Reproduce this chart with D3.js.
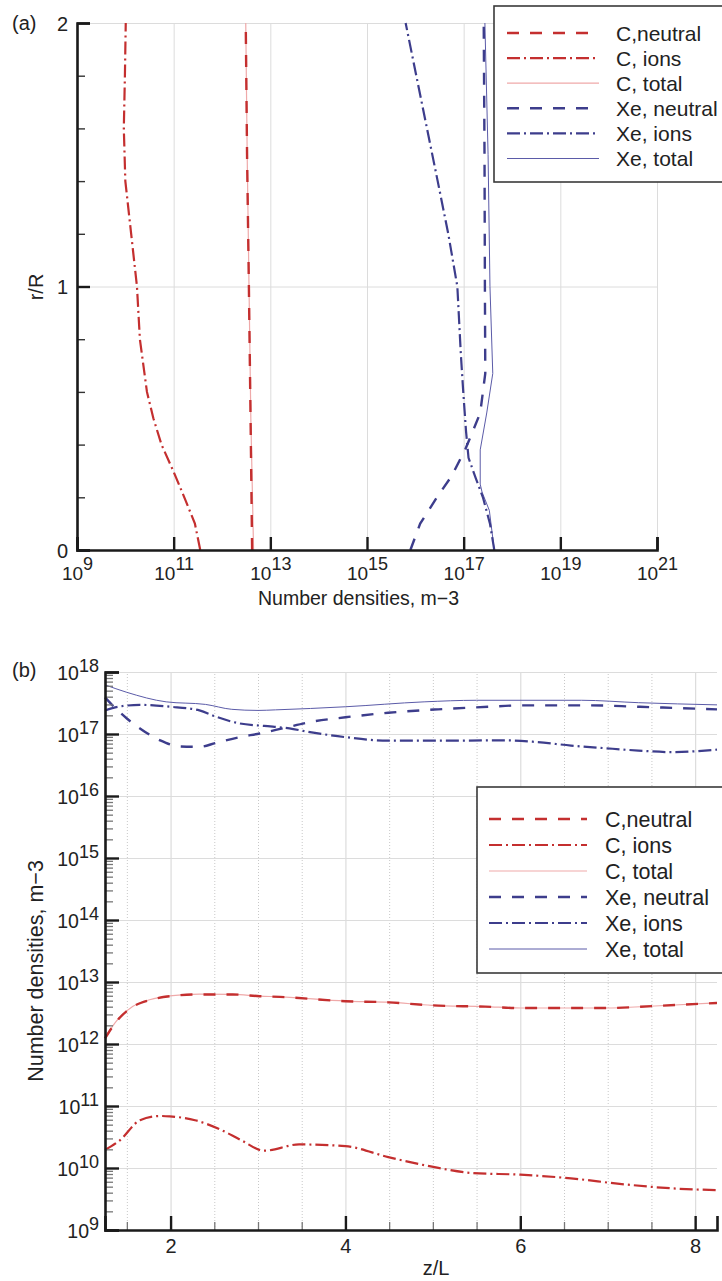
<!DOCTYPE html>
<html>
<head>
<meta charset="utf-8">
<script src="https://cdn.jsdelivr.net/npm/d3@7"></script>
<style>
body { margin: 0; background: #fff; }
svg text { font-family: "Liberation Sans", Arial, sans-serif; fill: #222; }
</style>
</head>
<body>
<svg id="chart" width="722" height="1281"></svg>
<script>
// ---------- panel (a): radial profiles, r/R vs number density ----------
const rCNeutral = [0, 0.5, 1.0, 1.5, 2.0]
const cNeutralA = [4.2e12, 3.9e12, 3.6e12, 3.3e12, 3.1e12]
const rCIons = [0, 0.1, 0.2, 0.3, 0.4, 0.5, 0.6, 0.8, 1.0, 1.2, 1.4, 1.6, 1.8, 2.0]
const cIonsA = [3.55e11, 2.75e11, 1.66e11, 9.8e10, 5.6e10, 3.8e10, 2.8e10, 2.0e10, 1.74e10, 1.32e10, 1.0e10, 9.3e9, 9.8e9, 1.02e10]
const rCTotal = [0, 0.5, 1.0, 1.5, 2.0]
const cTotalA = [4.5e12, 3.95e12, 3.62e12, 3.32e12, 3.1e12]
const rXeNeutral = [0, 0.1, 0.2, 0.28, 0.38, 0.42, 0.52, 0.67, 1.0, 1.5, 2.0]
const xeNeutralA = [7.9e15, 1.26e16, 2.8e16, 5.6e16, 1.07e17, 1.32e17, 2.2e17, 2.8e17, 2.75e17, 2.7e17, 2.6e17]
const rXeIons = [0, 0.1, 0.2, 0.27, 0.35, 0.45, 0.6, 0.75, 1.0, 1.2, 1.4, 1.6, 2.0]
const xeIonsA = [4.3e17, 3.5e17, 2.5e17, 1.8e17, 1.26e17, 1.12e17, 9.8e16, 8.7e16, 7.4e16, 4.8e16, 2.9e16, 1.74e16, 6.3e15]
const rXeTotal = [0, 0.15, 0.22, 0.25, 0.38, 0.52, 0.67, 1.0, 1.5, 2.0]
const xeTotalA = [4.3e17, 3.4e17, 2.4e17, 2.2e17, 2.2e17, 3.0e17, 4.0e17, 3.5e17, 3.2e17, 2.75e17]

// ---------- panel (b): axial profiles, number density vs z/L ----------
const zCNeutral = [1.25, 1.38, 1.57, 1.76, 1.99, 2.33, 2.71, 3.02, 3.25, 4.0, 4.49, 4.99, 5.6, 6.0, 6.97, 7.54, 8.25]
const cNeutralB = [1.23e12, 2.3e12, 4.0e12, 5.1e12, 5.9e12, 6.3e12, 6.3e12, 5.9e12, 5.75e12, 4.9e12, 4.7e12, 4.2e12, 4.0e12, 3.8e12, 3.8e12, 4.1e12, 4.6e12]
const zCIons = [1.25, 1.42, 1.65, 1.88, 1.99, 2.28, 2.58, 2.81, 3.07, 3.47, 4.0, 4.49, 4.99, 5.45, 6.0, 6.58, 7.16, 7.73, 8.25]
const cIonsB = [1.95e10, 2.8e10, 5.9e10, 6.9e10, 6.8e10, 5.9e10, 4.1e10, 2.8e10, 1.9e10, 2.4e10, 2.25e10, 1.5e10, 1.05e10, 8.3e9, 7.8e9, 6.8e9, 5.5e9, 4.7e9, 4.4e9]
const zCTotal = [1.25, 1.38, 1.57, 1.76, 1.99, 2.33, 2.71, 3.02, 3.25, 4.0, 4.49, 4.99, 5.6, 6.0, 6.97, 7.54, 8.25]
const cTotalB = [1.25e12, 2.33e12, 4.05e12, 5.17e12, 5.97e12, 6.36e12, 6.33e12, 5.92e12, 5.77e12, 4.92e12, 4.72e12, 4.21e12, 4.01e12, 3.81e12, 3.81e12, 4.1e12, 4.6e12]
const zXeNeutral = [1.25, 1.37, 1.5, 1.65, 1.88, 2.1, 2.33, 2.52, 2.79, 3.02, 3.28, 3.62, 4.0, 4.49, 5.06, 5.64, 6.02, 6.78, 7.35, 8.25]
const xeNeutralB = [3.9e17, 2.6e17, 1.78e17, 1.23e17, 7.9e16, 6.3e16, 6.2e16, 7.2e16, 8.9e16, 1.02e17, 1.23e17, 1.58e17, 1.86e17, 2.2e17, 2.5e17, 2.75e17, 2.9e17, 2.9e17, 2.75e17, 2.5e17]
const zXeIons = [1.25, 1.4, 1.65, 2.0, 2.33, 2.52, 2.79, 3.07, 3.36, 3.55, 4.0, 4.49, 5.06, 5.83, 6.2, 6.58, 6.97, 7.35, 7.73, 8.25]
const xeIonsB = [2.4e17, 2.75e17, 2.95e17, 2.75e17, 2.4e17, 1.9e17, 1.48e17, 1.35e17, 1.23e17, 1.1e17, 8.9e16, 7.8e16, 7.8e16, 7.9e16, 7.4e16, 6.5e16, 5.9e16, 5.4e16, 5.1e16, 5.6e16]
const zXeTotal = [1.25, 1.5, 1.95, 2.4, 2.7, 3.0, 3.2, 4.0, 4.9, 5.5, 6.7, 7.35, 8.25]
const xeTotalB = [6.2e17, 4.7e17, 3.3e17, 3.0e17, 2.5e17, 2.4e17, 2.45e17, 2.75e17, 3.3e17, 3.5e17, 3.5e17, 3.2e17, 2.95e17]

const seriesNames = ['C,neutral', 'C, ions', 'C, total', 'Xe, neutral', 'Xe, ions', 'Xe, total']
const xTicksA = [1e9, 1e11, 1e13, 1e15, 1e17, 1e19, 1e21]
const yTicksA = [0, 1, 2]
const xTicksB = [2, 4, 6, 8]
const yTicksB = [1e9, 1e10, 1e11, 1e12, 1e13, 1e14, 1e15, 1e16, 1e17, 1e18]

// line looks, in legend order
const RED = '#c42f2f', PINK = '#efa9a9', BLUE = '#3d3d8c', BLUE2 = '#5b5ba8'
const styles = [
	{ color: RED, dash: '12,11', width: 2.4 },
	{ color: RED, dash: '13,4,2,4', width: 2.2 },
	{ color: PINK, dash: null, width: 1.2 },
	{ color: BLUE, dash: '12,11', width: 2.4 },
	{ color: BLUE, dash: '13,4,2,4', width: 2.2 },
	{ color: BLUE2, dash: null, width: 1 }
]

const svg = d3.select('#chart')

function supLabels(sel, anchor, baseDy, supDy, baseSize, supSize) {
	sel.selectAll('.tick text').each(function(d) {
		const t = d3.select(this).text(null).attr('dy', baseDy).attr('text-anchor', anchor)
			.style('font-size', baseSize + 'px')
		t.append('tspan').text('10')
		t.append('tspan').attr('dy', supDy).style('font-size', supSize + 'px').text(Math.round(Math.log10(d)))
	})
}

function styleAxis(g) {
	g.select('.domain').attr('stroke', '#1a1a1a').attr('stroke-width', 2.6)
	g.selectAll('.tick line').attr('stroke', '#1a1a1a').attr('stroke-width', 2.4)
}

// ================= panel (a) =================
const xA = d3.scaleLog().domain([1e9, 1e21]).range([77, 657])
const yA = d3.scaleLinear().domain([0, 2]).range([550, 23])

// grid
svg.append('g').attr('transform', 'translate(0,550)')
	.call(d3.axisBottom(xA).tickValues(xTicksA.slice(1)).tickSize(-527).tickFormat(''))
	.call(g => g.select('.domain').remove())
	.call(g => g.selectAll('line').attr('stroke', '#dcdcdc').attr('stroke-width', 1))
svg.append('g').attr('transform', 'translate(77,0)')
	.call(d3.axisLeft(yA).tickValues([1, 2]).tickSize(-580).tickFormat(''))
	.call(g => g.select('.domain').remove())
	.call(g => g.selectAll('line').attr('stroke', '#dcdcdc').attr('stroke-width', 1))

const seriesA = [
	[rCTotal, cTotalA, 2], [rCNeutral, cNeutralA, 0], [rCIons, cIonsA, 1],
	[rXeTotal, xeTotalA, 5], [rXeNeutral, xeNeutralA, 3], [rXeIons, xeIonsA, 4]
]
const lineA = d3.line().x(d => xA(d[1])).y(d => yA(d[0]))
seriesA.forEach(s => {
	const st = styles[s[2]]
	svg.append('path')
		.datum(s[0].map((r, i) => [r, s[1][i]]))
		.attr('d', lineA)
		.attr('fill', 'none')
		.attr('stroke', st.color)
		.attr('stroke-width', st.width)
		.attr('stroke-dasharray', st.dash)
})

// minor y ticks
svg.append('g').attr('transform', 'translate(77,0)')
	.call(d3.axisLeft(yA).tickValues([0.2, 0.4, 0.6, 0.8, 1.2, 1.4, 1.6, 1.8]).tickSize(-8).tickFormat(''))
	.call(g => g.select('.domain').remove())
	.call(g => g.selectAll('line').attr('stroke', '#333').attr('stroke-width', 1.4))

svg.append('g').attr('transform', 'translate(0,550)')
	.call(d3.axisBottom(xA).tickValues(xTicksA).tickSize(-13).tickPadding(30).tickFormat(() => ''))
	.call(styleAxis)
	.call(g => supLabels(g, 'middle', 0, -10, 19, 18))

svg.append('g').attr('transform', 'translate(77,0)')
	.call(d3.axisLeft(yA).tickValues(yTicksA).tickSize(-13).tickPadding(9).tickFormat(d3.format('d')))
	.call(styleAxis)
	.call(g => g.selectAll('.tick text').style('font-size', '20px').attr('dy', '0.35em'))

svg.append('text').attr('x', 258).attr('y', 605).style('font-size', '19.5px').text('Number densities, m\u22123')
svg.append('text').attr('transform', 'translate(43,287) rotate(-90)').attr('text-anchor', 'middle')
	.style('font-size', '20px').text('r/R')
svg.append('text').attr('x', 12).attr('y', 30).style('font-size', '20px').text('(a)')

// ================= panel (b) =================
const xB = d3.scaleLinear().domain([1.25, 8.25]).range([105, 717])
const yB = d3.scaleLog().domain([1e9, 1e18]).range([1230, 672])
const minorZ = [1.5, 2.5, 3, 3.5, 4.5, 5, 5.5, 6.5, 7, 7.5]

svg.append('g').attr('transform', 'translate(0,1230)')
	.call(d3.axisBottom(xB).tickValues(minorZ).tickSize(-558).tickFormat(''))
	.call(g => g.select('.domain').remove())
	.call(g => g.selectAll('line').attr('stroke', '#c8c8c8').attr('stroke-width', 1).attr('stroke-dasharray', '1,2'))
svg.append('g').attr('transform', 'translate(0,1230)')
	.call(d3.axisBottom(xB).tickValues(xTicksB).tickSize(-558).tickFormat(''))
	.call(g => g.select('.domain').remove())
	.call(g => g.selectAll('line').attr('stroke', '#dcdcdc').attr('stroke-width', 1.2))
svg.append('g').attr('transform', 'translate(105,0)')
	.call(d3.axisLeft(yB).tickValues(yTicksB.slice(1)).tickSize(-612).tickFormat(''))
	.call(g => g.select('.domain').remove())
	.call(g => g.selectAll('line').attr('stroke', '#dcdcdc').attr('stroke-width', 1.2))

const seriesB = [
	[zCTotal, cTotalB, 2], [zCNeutral, cNeutralB, 0], [zCIons, cIonsB, 1],
	[zXeTotal, xeTotalB, 5], [zXeNeutral, xeNeutralB, 3], [zXeIons, xeIonsB, 4]
]
const lineB = d3.line().x(d => xB(d[0])).y(d => yB(d[1])).curve(d3.curveMonotoneX)
seriesB.forEach(s => {
	const st = styles[s[2]]
	svg.append('path')
		.datum(s[0].map((z, i) => [z, s[1][i]]))
		.attr('d', lineB)
		.attr('fill', 'none')
		.attr('stroke', st.color)
		.attr('stroke-width', st.width)
		.attr('stroke-dasharray', st.dash)
})

// minor ticks
const minorY = []
yTicksB.slice(0, -1).forEach(p => { for (let k = 2; k <= 9; k++) minorY.push(p * k) })
svg.append('g').attr('transform', 'translate(105,0)')
	.call(d3.axisLeft(yB).tickValues(minorY).tickSize(-8).tickFormat(''))
	.call(g => g.select('.domain').remove())
	.call(g => g.selectAll('line').attr('stroke', '#777').attr('stroke-width', 1.3))
svg.append('g').attr('transform', 'translate(0,1230)')
	.call(d3.axisBottom(xB).tickValues(minorZ).tickSize(-8).tickFormat(''))
	.call(g => g.select('.domain').remove())
	.call(g => g.selectAll('line').attr('stroke', '#777').attr('stroke-width', 1.3))

svg.append('g').attr('transform', 'translate(0,1230)')
	.call(d3.axisBottom(xB).tickValues(xTicksB).tickSize(-14).tickPadding(23).tickFormat(d3.format('d')))
	.call(styleAxis)
	.call(g => g.selectAll('.tick text').style('font-size', '20px').attr('dy', 0))

svg.append('g').attr('transform', 'translate(105,0)')
	.call(d3.axisLeft(yB).tickValues(yTicksB).tickSize(-14).tickPadding(6).tickFormat(() => ''))
	.call(styleAxis)
	.call(g => g.selectAll('.tick text').attr('y', 7))
	.call(g => supLabels(g, 'end', 0, -8, 19.5, 18))

svg.append('text').attr('x', 436).attr('y', 1275).attr('text-anchor', 'middle').style('font-size', '20px').text('z/L')
svg.append('text').attr('transform', 'translate(43,971) rotate(-90)').attr('text-anchor', 'middle')
	.style('font-size', '21.5px').text('Number densities, m\u22123')
svg.append('text').attr('x', 12).attr('y', 677).style('font-size', '20px').text('(b)')

// ================= legends =================
function legend(x, y, h, x0, x1, tx, rowY, step, fs) {
	const g = svg.append('g')
	g.append('rect').attr('x', x).attr('y', y).attr('width', 740 - x).attr('height', h)
		.attr('fill', '#fff').attr('stroke', '#3a3a3a').attr('stroke-width', 1.6)
	seriesNames.forEach((name, i) => {
		const st = styles[i]
		const yy = rowY + i * step
		g.append('line').attr('x1', x0).attr('x2', x1).attr('y1', yy).attr('y2', yy)
			.attr('stroke', st.color).attr('stroke-width', st.width).attr('stroke-dasharray', st.dash)
		g.append('text').attr('x', tx).attr('y', yy + 7.5).style('font-size', fs + 'px').text(name)
	})
}
legend(494, 6, 176, 507, 599, 616, 33, 25.1, 21)
legend(477, 787, 186, 489, 587, 605, 819, 26, 21.5)
</script>
</body>
</html>
